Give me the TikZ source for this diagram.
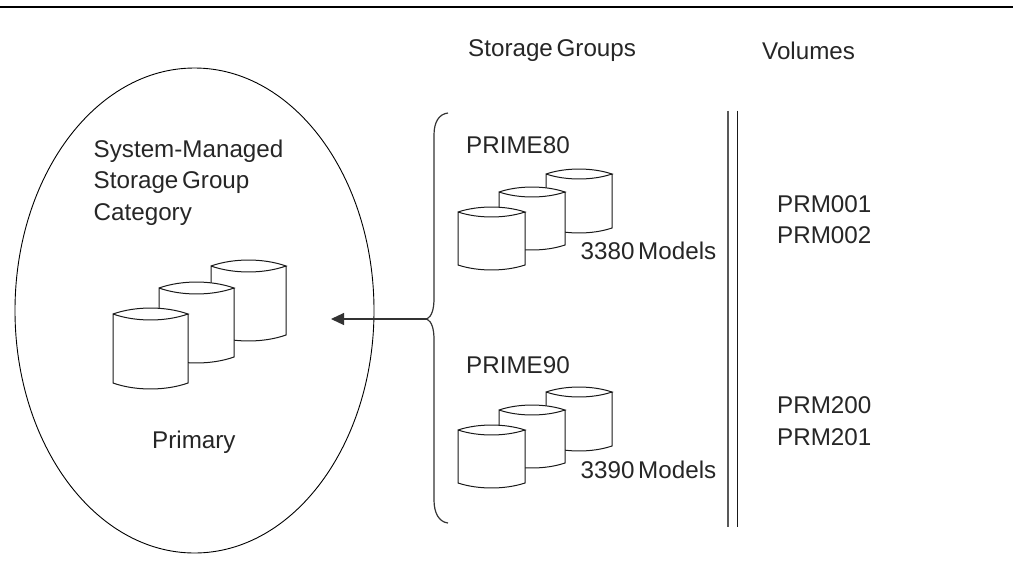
\documentclass[tikz,border=0pt]{standalone}
\usepackage{fontspec}
\setmainfont{Liberation Sans}
\usetikzlibrary{shapes.geometric,arrows.meta}
\tikzset{
  x=1pt,y=-1pt,
  lbl/.style={inner sep=0pt,anchor=base west,font=\fontsize{24.2}{29}\selectfont,text=black!85},
  ln/.style={line width=1pt,black!90},
}
\newcommand{\nsp}{\kern-3pt\ }
% #1 left, #2 rim y, #3 width, #4 height, #5 bulge
\newcommand{\cyldraw}[5]{%
  \path[fill=white] (#1,#2) .. controls (#1+#3*0.3,#2-#5*1.33) and (#1+#3*0.7,#2-#5*1.33) .. (#1+#3,#2)
    -- (#1+#3,#2+#4) .. controls (#1+#3*0.7,#2+#4+#5*1.33) and (#1+#3*0.3,#2+#4+#5*1.33) .. (#1,#2+#4) -- cycle;
  \draw[ln] (#1,#2) .. controls (#1+#3*0.3,#2-#5*1.33) and (#1+#3*0.7,#2-#5*1.33) .. (#1+#3,#2)
    .. controls (#1+#3*0.7,#2+#5*1.33) and (#1+#3*0.3,#2+#5*1.33) .. (#1,#2)
    -- (#1,#2+#4) .. controls (#1+#3*0.3,#2+#4+#5*1.33) and (#1+#3*0.7,#2+#4+#5*1.33) .. (#1+#3,#2+#4) -- (#1+#3,#2);
}
\begin{document}
\begin{tikzpicture}
\useasboundingbox (0,0) rectangle (1013,587);
\coordinate (tl) at (0,7); \coordinate (tr) at (1013,7);
\draw[line width=1.4pt,black] (tl) -- (tr);
\node[draw,black,line width=0.9pt,ellipse,inner sep=0pt,minimum width=359pt,minimum height=485pt] (oval) at (194.5,310.5) {};
\node[lbl] (t1) at (93.5,157) {System-Managed};
\node[lbl] (t2) at (93.5,188) {Storage\nsp Group};
\node[lbl] (t3) at (93.5,220) {Category};
\node[lbl] (t4) at (152,448) {Primary};
\cyldraw{211}{266}{75}{69}{6}
\cyldraw{159}{288}{75}{69}{6}
\cyldraw{113}{314}{75}{69}{6}
\node[lbl] (h1) at (468,56) {Storage\nsp Groups};
\node[lbl] (h2) at (762,59) {Volumes};
\node[lbl] (p1) at (466,153) {PRIME80};
\node[lbl] (p2) at (466,373) {PRIME90};
\cyldraw{546}{174}{66}{54}{5}
\cyldraw{499}{192}{66}{53}{5}
\cyldraw{458}{212}{67}{53}{5}
\cyldraw{546}{392}{66}{54}{5}
\cyldraw{499}{410}{66}{53}{5}
\cyldraw{458}{430}{67}{53}{5}
\node[lbl] (m1) at (580.5,259) {3380\nsp Models};
\node[lbl] (m2) at (580.5,478) {3390\nsp Models};
\node[lbl] (v1) at (777,212) {PRM001};
\node[lbl] (v2) at (777,243) {PRM002};
\node[lbl] (v3) at (777,413) {PRM200};
\node[lbl] (v4) at (777,445) {PRM201};
\coordinate (a1) at (727.7,110.5); \coordinate (a2) at (727.7,527);
\coordinate (b1) at (737,110.5); \coordinate (b2) at (737,527);
\draw[line width=1.8pt,black!65] (a1) -- (a2);
\draw[line width=1pt,black!90] (b1) -- (b2);
\coordinate (bt) at (448,113); \coordinate (bb) at (448,523); \coordinate (bm) at (427,319); \coordinate (tip) at (331,319);
\draw[line width=1.2pt,black!80] (bt) .. controls (439,114) and (434,122) .. (434,135) -- (434,298)
  .. controls (434,309) and (432,316) .. (bm)
  .. controls (432,322) and (434,329) .. (434,340) -- (434,500)
  .. controls (434,513) and (439,522) .. (bb);
\draw[line width=1.1pt,black!80,-{Triangle[length=13pt,width=12pt]}] (bm) -- (tip);
\end{tikzpicture}
\end{document}
